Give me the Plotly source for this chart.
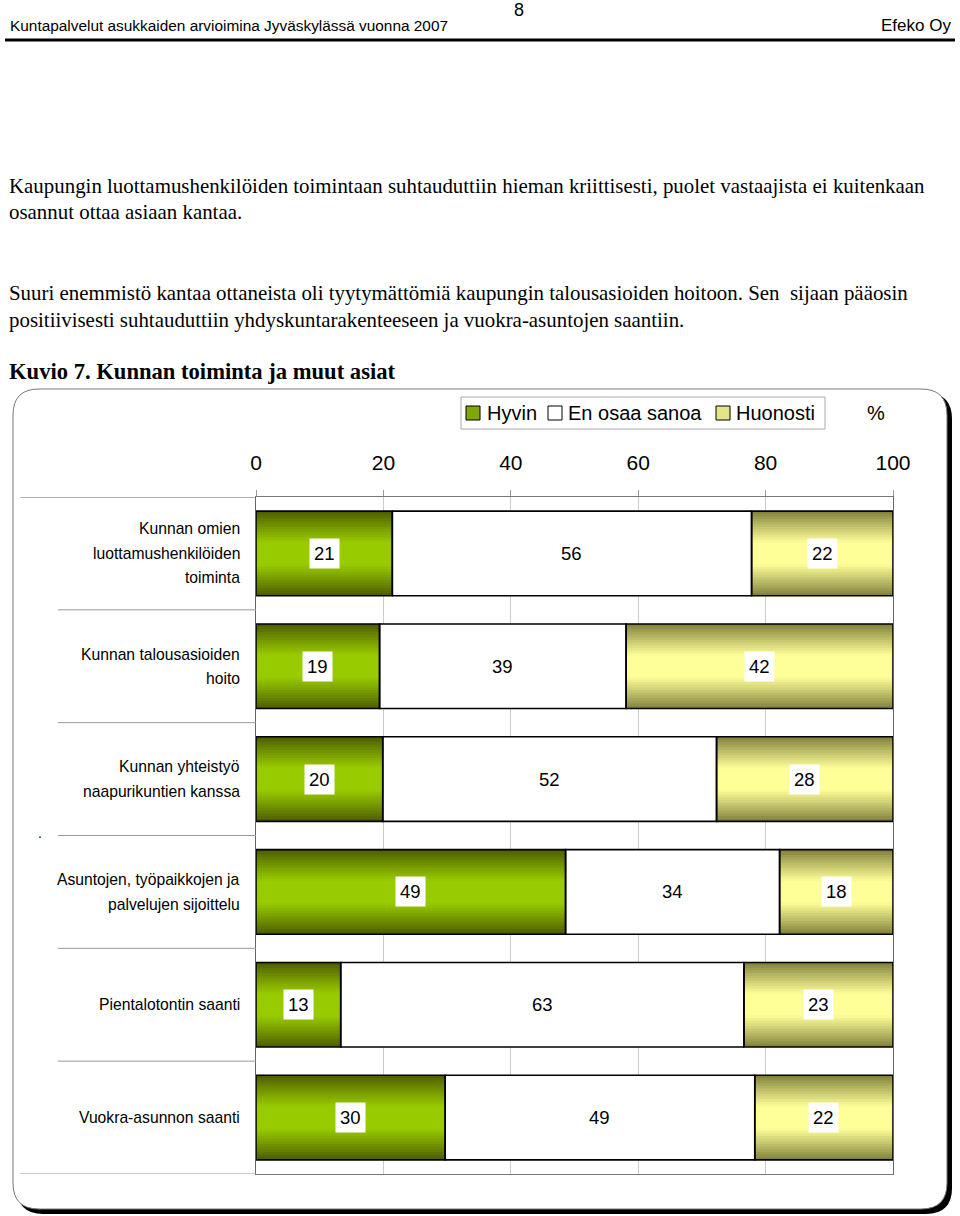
import plotly.graph_objects as go

# ---------------- data ----------------
categories = [
    "Kunnan omien\nluottamushenkilöiden\ntoiminta",
    "Kunnan talousasioiden\nhoito",
    "Kunnan yhteistyö\nnaapurikuntien kanssa",
    "Asuntojen, työpaikkojen ja\npalvelujen sijoittelu",
    "Pientalotontin saanti",
    "Vuokra-asunnon saanti",
]
series_names = ["Hyvin", "En osaa sanoa", "Huonosti"]
hyvin = [21.4, 19.4, 19.9, 48.6, 13.3, 29.7]
en_osaa = [56.4, 38.7, 52.4, 33.6, 63.3, 48.6]
huonosti = [22.2, 41.9, 27.7, 17.8, 23.4, 21.7]
tick_values = [0, 20, 40, 60, 80, 100]

header_left = "Kuntapalvelut asukkaiden arvioimina Jyväskylässä vuonna 2007"
header_right = "Efeko Oy"
page_no = "8"
para_lines = [
    "Kaupungin luottamushenkilöiden toimintaan suhtauduttiin hieman kriittisesti, puolet vastaajista ei kuitenkaan",
    "osannut ottaa asiaan kantaa.",
    "Suuri enemmistö kantaa ottaneista oli tyytymättömiä kaupungin talousasioiden hoitoon. Sen  sijaan pääosin",
    "positiivisesti suhtauduttiin yhdyskuntarakenteeseen ja vuokra-asuntojen saantiin.",
]
para_y = [186, 212, 293, 320]
figure_title = "Kuvio 7. Kunnan toiminta ja muut asiat"

# ---------------- geometry helpers ----------------
W_PX, H_PX = 960, 1216
L, R, T, B = 256, 893, 497, 1174
PW, PH = R - L, B - T
SANS = "Liberation Sans, Arial"
SERIF = "Liberation Serif, Times New Roman"


def px(x):
    return (x - L) / PW


def py(y):
    return (B - y) / PH


def hexmix(c1, c2, t):
    a = [int(c1[i:i + 2], 16) for i in (1, 3, 5)]
    b = [int(c2[i:i + 2], 16) for i in (1, 3, 5)]
    return "rgb(%d,%d,%d)" % tuple(round(a[i] + (b[i] - a[i]) * t) for i in range(3))


def rrect(x0, y0, x1, y1, r):
    pts = [
        ("M", [(x0 + r, y0)]), ("L", [(x1 - r, y0)]), ("Q", [(x1, y0), (x1, y0 + r)]),
        ("L", [(x1, y1 - r)]), ("Q", [(x1, y1), (x1 - r, y1)]),
        ("L", [(x0 + r, y1)]), ("Q", [(x0, y1), (x0, y1 - r)]),
        ("L", [(x0, y0 + r)]), ("Q", [(x0, y0), (x0 + r, y0)]),
    ]
    s = ""
    for cmd, ps in pts:
        s += cmd + " ".join("%.5f,%.5f" % (px(a), py(b)) for a, b in ps) + " "
    return s + "Z"


values = [hyvin, en_osaa, huonosti]
bases = []
acc = [0.0] * len(categories)
for v in values:
    bases.append(list(acc))
    acc = [a + b for a, b in zip(acc, v)]

ypos = list(range(len(categories)))
BAR_W = 0.75

fig = go.Figure()

# gradient layers
grad = {0: ("#4a5800", "#99cc00"), 2: ("#7c7c38", "#ffff99")}
N = 16
for si in (0, 2):
    edge, center = grad[si]
    for k in range(N):
        t = (k + 0.5) / N
        m = min(1.0, t / 0.75) ** 0.9
        fig.add_trace(go.Bar(
            y=ypos, x=values[si], base=bases[si], orientation="h",
            width=BAR_W * (1 - k / N), marker=dict(color=hexmix(edge, center, m), line=dict(width=0)),
            showlegend=False, hoverinfo="skip"))

fig.add_trace(go.Bar(y=ypos, x=values[1], base=bases[1], orientation="h", width=BAR_W,
                     marker=dict(color="white", line=dict(width=0)), showlegend=False, hoverinfo="skip"))

# outlines
for si in range(3):
    fig.add_trace(go.Bar(y=ypos, x=values[si], base=bases[si], orientation="h", width=BAR_W,
                         marker=dict(color="rgba(0,0,0,0)", line=dict(color="black", width=1.6)),
                         showlegend=False, hoverinfo="skip"))

ann = []
shapes = []

# data labels
for si in range(3):
    for i in ypos:
        ann.append(dict(x=bases[si][i] + values[si][i] / 2, y=i, xref="x", yref="y",
                        text=str(round(values[si][i])), showarrow=False, bgcolor="white",
                        borderpad=4, font=dict(family=SANS, size=18.5, color="black")))

# category labels (one annotation per line)
LINE_H = 24.5
for i, c in enumerate(categories):
    lines = c.split("\n")
    n = len(lines)
    for j, ln in enumerate(lines):
        off = ((n - 1) / 2 - j) * LINE_H
        ann.append(dict(x=px(242), y=i, xref="paper", yref="y", yshift=off, text=ln,
                        showarrow=False, xanchor="right", yanchor="middle",
                        font=dict(family=SANS, size=15.7, color="black")))

# legend (box, swatches, labels)
shapes.append(dict(type="rect", xref="paper", yref="paper", x0=px(461), x1=px(825), y0=py(397), y1=py(429),
                   fillcolor="white", line=dict(color="#aaaaaa", width=1)))
leg_sw = [466, 548, 716]
leg_tx = [485, 566, 734]
leg_fill = ["#7fa800", "white", "#e4e48a"]
for name, sx, tx, c in zip(series_names, leg_sw, leg_tx, leg_fill):
    shapes.append(dict(type="rect", xref="paper", yref="paper", x0=px(sx), x1=px(sx + 14),
                       y0=py(406), y1=py(420), fillcolor=c, line=dict(color="black", width=1)))
    ann.append(dict(x=px(tx), y=py(413), xref="paper", yref="paper", text=name, showarrow=False,
                    xanchor="left", yanchor="middle", font=dict(family=SANS, size=20, color="black")))

# header and text
ann.append(dict(x=px(8), y=py(25), xref="paper", yref="paper", text=header_left, showarrow=False,
                xanchor="left", yanchor="middle", font=dict(family=SANS, size=15.4, color="black")))
ann.append(dict(x=px(953), y=py(25), xref="paper", yref="paper", text=header_right, showarrow=False,
                xanchor="right", yanchor="middle", font=dict(family=SANS, size=17, color="black")))
ann.append(dict(x=px(519), y=py(10), xref="paper", yref="paper", text=page_no, showarrow=False,
                xanchor="center", yanchor="middle", font=dict(family=SANS, size=18, color="black")))
for ln, yy in zip(para_lines, para_y):
    ann.append(dict(x=px(7), y=py(yy), xref="paper", yref="paper", text=ln, showarrow=False,
                    xanchor="left", yanchor="middle",
                    font=dict(family=SERIF, size=20.9, color="black")))
ann.append(dict(x=px(7), y=py(371), xref="paper", yref="paper", text="<b>" + figure_title + "</b>",
                showarrow=False, xanchor="left", yanchor="middle",
                font=dict(family=SERIF, size=22.6, color="black")))
ann.append(dict(x=px(876), y=py(413), xref="paper", yref="paper", text="%", showarrow=False,
                xanchor="center", yanchor="middle", font=dict(family=SANS, size=20, color="black")))
ann.append(dict(x=px(40), y=py(833), xref="paper", yref="paper", text=".", showarrow=False,
                xanchor="center", yanchor="middle", font=dict(family=SANS, size=14, color="black")))

# frame shadow + frame
shapes.insert(0, dict(type="path", xref="paper", yref="paper", path=rrect(13, 389, 947, 1209, 26),
                      fillcolor="white", line=dict(color="#777777", width=1), layer="below"))
shapes.insert(0, dict(type="path", xref="paper", yref="paper", path=rrect(17, 393, 952, 1214, 26),
                      fillcolor="black", line=dict(width=0), layer="below"))
# header rule
shapes.append(dict(type="line", xref="paper", yref="paper", x0=px(5), x1=px(955), y0=py(40), y1=py(40),
                   line=dict(color="black", width=3)))
# left-side separators
shapes.append(dict(type="line", xref="paper", yref="y", x0=px(20), x1=0, y0=-0.5, y1=-0.5,
                   line=dict(color="#666666", width=1)))
shapes.append(dict(type="line", xref="paper", yref="y", x0=px(20), x1=0, y0=len(categories) - 0.5,
                   y1=len(categories) - 0.5, line=dict(color="#999999", width=1)))
for i in range(len(categories) - 1):
    shapes.append(dict(type="line", xref="paper", yref="y", x0=px(58), x1=0, y0=i + 0.5, y1=i + 0.5,
                       line=dict(color="#999999", width=1)))

fig.update_layout(
    width=W_PX, height=H_PX, autosize=False,
    margin=dict(l=L, r=W_PX - R, t=T, b=H_PX - B, pad=0),
    paper_bgcolor="white", plot_bgcolor="rgba(0,0,0,0)",
    barmode="overlay", bargap=0.25, showlegend=False,
    annotations=ann, shapes=shapes,
    xaxis=dict(side="top", range=[0, 100], tickvals=tick_values, ticktext=[str(v) for v in tick_values],
               showgrid=True, gridcolor="#cccccc", gridwidth=1, zeroline=False,
               showline=True, linecolor="#777777", linewidth=1, mirror=True,
               ticks="outside", ticklen=6, tickcolor="#999999", ticklabelstandoff=12,
               tickfont=dict(family=SANS, size=21, color="black")),
    yaxis=dict(range=[len(categories) - 0.5, -0.5], showticklabels=False, showgrid=False, zeroline=False,
               showline=True, linecolor="#666666", linewidth=1, mirror=True, ticks=""),
)

fig.write_html("out.html", config={"displayModeBar": False},
               post_script="document.body.style.margin='0';document.body.style.overflow='hidden';")
